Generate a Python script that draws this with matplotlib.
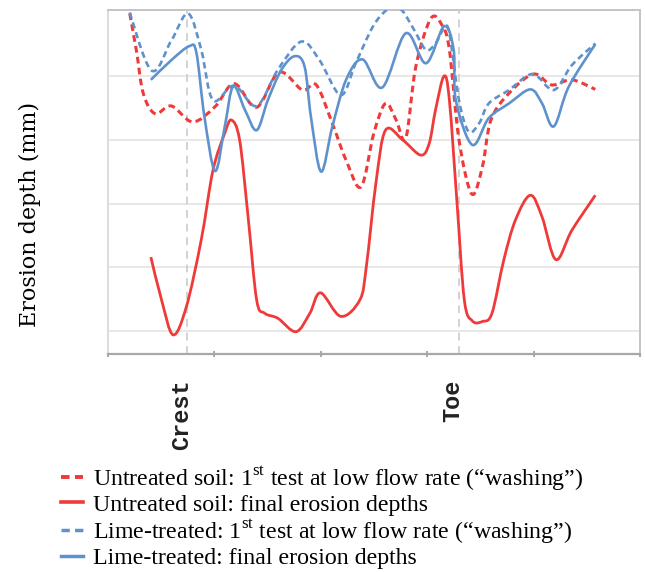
import numpy as np
import matplotlib
matplotlib.use("Agg")
import matplotlib.pyplot as plt
from matplotlib.path import Path
from matplotlib.patches import PathPatch
from matplotlib.lines import Line2D
from matplotlib.transforms import offset_copy

plt.rcParams['mathtext.fontset'] = 'custom'
plt.rcParams['mathtext.rm'] = 'Liberation Serif'

# positions along the slope (axis units, ticks at 0..5) and depths (gridline = 1 unit)
untreated_wash_x = [0.19, 0.27, 0.335, 0.445, 0.60, 0.80, 1.01, 1.19, 1.40, 1.61, 1.83, 1.96, 2.11, 2.24,
                    2.38, 2.50, 2.61, 2.71, 2.80, 2.895, 3.035, 3.14, 3.21, 3.30, 3.42, 3.52, 3.60, 3.77,
                    4.00, 4.17, 4.36, 4.58]
untreated_wash_y = [0.15, -0.59, -1.27, -1.59, -1.47, -1.72, -1.48, -1.12, -1.49, -0.94, -1.22, -1.14, -1.74, -2.32,
                    -2.74, -1.90, -1.43, -1.69, -1.98, -0.85, -0.10, -0.20, -0.59, -2.00, -2.85, -2.42, -1.69, -1.27,
                    -0.97, -1.14, -1.06, -1.21]

untreated_final_x = [0.407, 0.507, 0.616, 0.74, 0.88, 0.99, 1.10, 1.163, 1.24, 1.32, 1.40, 1.475, 1.60, 1.77,
                     1.90, 2.00, 2.19, 2.37, 2.43, 2.52, 2.61, 2.77, 2.94, 3.02, 3.08, 3.16, 3.21, 3.28,
                     3.35, 3.425, 3.52, 3.61, 3.72, 3.83, 3.97, 4.08, 4.21, 4.36, 4.58]
untreated_final_y = [-3.84, -4.51, -5.06, -4.62, -3.57, -2.48, -1.90, -1.69, -2.00, -3.21, -4.51, -4.72, -4.80, -5.01,
                     -4.72, -4.40, -4.77, -4.51, -3.99, -2.68, -1.85, -2.00, -2.24, -2.06, -1.53, -1.00, -1.38, -2.95,
                     -4.51, -4.84, -4.85, -4.72, -3.89, -3.26, -2.87, -3.21, -3.88, -3.42, -2.87]

lime_wash_x = [0.18, 0.41, 0.60, 0.757, 0.88, 0.99, 1.19, 1.40, 1.60, 1.82, 1.99, 2.19, 2.33, 2.49,
               2.61, 2.69, 2.77, 2.88, 2.99, 3.08, 3.16, 3.21, 3.30, 3.39, 3.49, 3.58, 3.77, 3.99,
               4.19, 4.36, 4.58]
lime_wash_y = [0.15, -0.91, -0.44, -0.02, -0.59, -1.38, -1.15, -1.47, -0.90, -0.46, -0.75, -1.30, -0.80, -0.23,
               0.02, 0.08, 0.02, -0.28, -0.59, -0.49, -0.25, -0.33, -1.38, -1.87, -1.74, -1.43, -1.22, -0.97,
               -1.22, -0.83, -0.49]

lime_final_x = [0.407, 0.60, 0.77, 0.835, 0.91, 1.01, 1.10, 1.18, 1.29, 1.40, 1.505, 1.63, 1.755, 1.85,
                1.91, 2.005, 2.11, 2.24, 2.395, 2.58, 2.80, 2.99, 3.16, 3.25, 3.27, 3.425, 3.58, 3.77,
                3.97, 4.08, 4.19, 4.33, 4.58]
lime_final_y = [-1.06, -0.75, -0.53, -0.64, -1.64, -2.49, -1.80, -1.16, -1.53, -1.85, -1.38, -0.91, -0.69, -0.85,
                -1.64, -2.50, -1.80, -1.06, -0.74, -1.18, -0.33, -0.80, -0.22, -0.59, -1.38, -2.08, -1.66, -1.43,
                -1.21, -1.43, -1.79, -1.17, -0.50]

crest_x = 0.75
toe_x = 3.30
labels = ["Untreated soil: 1$^{\\mathrm{st}}$ test at low flow rate (\u201cwashing\u201d)",
          "Untreated soil: final erosion depths",
          "Lime-treated: 1$^{\\mathrm{st}}$ test at low flow rate (\u201cwashing\u201d)",
          "Lime-treated: final erosion depths"]

RED = '#f03a3a'
BLUE = '#5f92cc'


def smooth_path(xs, ys):
    # excel-like smoothed line: bezier segments through the points
    p = np.column_stack([xs, ys])
    n = len(p)
    verts = [p[0]]
    codes = [Path.MOVETO]
    for i in range(n - 1):
        p0 = p[max(i - 1, 0)]
        p1 = p[i]
        p2 = p[i + 1]
        p3 = p[min(i + 2, n - 1)]
        verts += [p1 + (p2 - p0) / 6, p2 - (p3 - p1) / 6, p2]
        codes += [Path.CURVE4] * 3
    return Path(verts, codes)


fig = plt.figure(figsize=(6.45, 5.72), dpi=100)
ax = fig.add_axes([0.1667, 0.3811, 0.8256, 0.6014])
ax.set_xlim(0, 5)
ax.set_ylim(-5.36, 0.035)

for gy in [-1, -2, -3, -4, -5]:
    ax.axhline(gy, color='#e4e4e4', lw=1.2, zorder=1)
for vx in [crest_x, toe_x]:
    ax.axvline(vx, color='#d2d2d2', lw=1.4, ls=(0, (4, 3)), zorder=1)

series = [
    (untreated_wash_x, untreated_wash_y, RED, (0, (2.2, 1.4)), 2.2),
    (untreated_final_x, untreated_final_y, RED, '-', 2.0),
    (lime_wash_x, lime_wash_y, BLUE, (0, (2.4, 1.5)), 1.9),
    (lime_final_x, lime_final_y, BLUE, '-', 1.9),
]
handles = []
for xs, ys, col, ls, lw in series:
    patch = PathPatch(smooth_path(xs, ys), fill=False, edgecolor=col, lw=lw, ls=ls,
                      capstyle='butt', joinstyle='round', zorder=3)
    ax.add_patch(patch)
    handles.append(Line2D([], [], color=col, lw=lw + 0.6, ls=ls))

for s in ['top', 'right', 'left']:
    ax.spines[s].set_color('#c4c4c4')
    ax.spines[s].set_linewidth(1.4)
ax.spines['left'].set_color('#dcdcdc')
ax.spines['bottom'].set_color('#a8a8a8')
ax.spines['bottom'].set_linewidth(1.6)
ax.set_xticks([0, 1, 2, 3, 4, 5])
ax.set_xticklabels([])
ax.tick_params(axis='x', direction='inout', length=5, width=1.4, color='#a8a8a8')
ax.set_yticks([])

lab_tr = offset_copy(ax.get_xaxis_transform(), fig=fig, x=-6, y=0, units='dots')
ax.text(crest_x, -0.075, 'Crest', rotation=90, ha='center', va='top', transform=lab_tr,
        family='Liberation Mono', fontsize=17, weight='bold', color='#222222')
ax.text(toe_x, -0.075, 'Toe', rotation=90, ha='center', va='top', transform=lab_tr,
        family='Liberation Mono', fontsize=17, weight='bold', color='#222222')

fig.text(30 / 645, 1 - 214 / 572, 'Erosion depth (mm)', rotation=90, ha='center', va='center',
         family='DejaVu Serif', fontsize=16)

fig.legend(handles, labels, loc='upper left', bbox_to_anchor=(61 / 645, 1 - 464 / 572),
           frameon=False, prop={'family': 'Liberation Serif', 'size': 17.2},
           handlelength=0.92, handletextpad=0.42, labelspacing=0.06, borderpad=0, borderaxespad=0)

fig.savefig('out.png', dpi=100)
